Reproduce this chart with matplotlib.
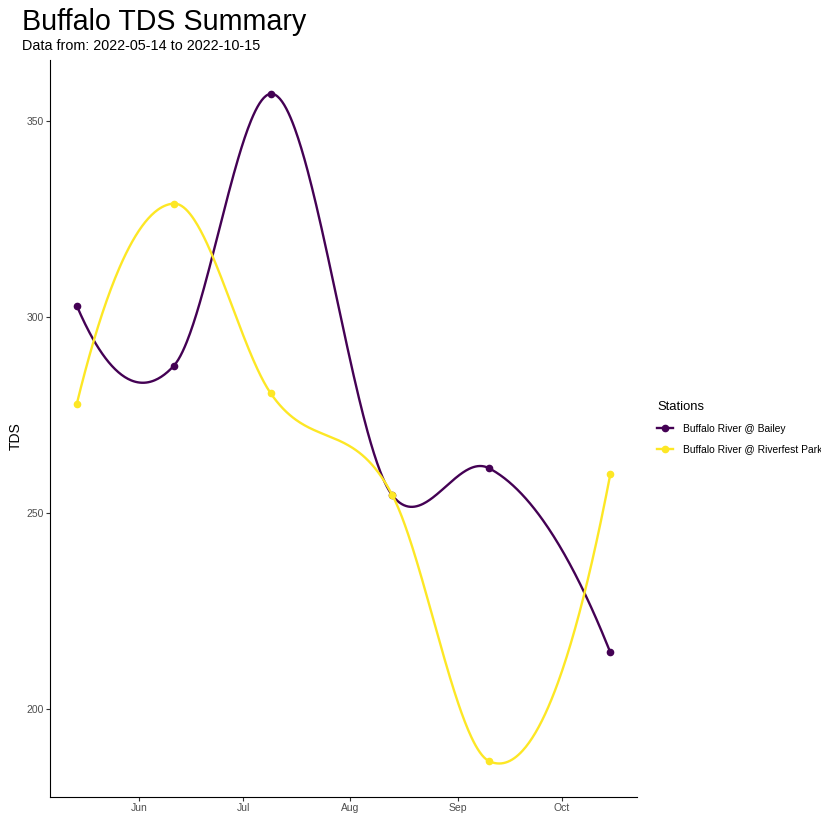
import numpy as np
import pandas as pd
import matplotlib
matplotlib.use('Agg')
import matplotlib.pyplot as plt
import matplotlib.dates as mdates

plt.rcParams['font.family'] = ['Liberation Sans', 'DejaVu Sans']

# sample dates and TDS readings per station
dates = ['2022-05-14', '2022-06-11', '2022-07-09', '2022-08-13', '2022-09-10', '2022-10-15']
bailey = [302.9, 287.5, 356.9, 254.6, 261.4, 214.4]
riverfest = [277.7, 328.9, 280.5, 254.7, 186.7, 259.9]
stations = ['Buffalo River @ Bailey', 'Buffalo River @ Riverfest Park']
colors = ['#440154', '#FDE725']


def smooth_line(x, y, xs):
    # cubic hermite through the points, tangents from 3-point parabolas
    x = np.asarray(x, float)
    y = np.asarray(y, float)
    h = np.diff(x)
    d = np.diff(y) / h
    m = np.zeros(len(x))
    m[1:-1] = (h[1:] * d[:-1] + h[:-1] * d[1:]) / (h[:-1] + h[1:])
    m[0] = d[0] - h[0] * (d[1] - d[0]) / (h[0] + h[1])
    m[-1] = d[-1] + h[-1] * (d[-1] - d[-2]) / (h[-2] + h[-1])
    i = np.clip(np.searchsorted(x, xs) - 1, 0, len(x) - 2)
    s = (xs - x[i]) / h[i]
    h00 = 2 * s**3 - 3 * s**2 + 1
    h10 = s**3 - 2 * s**2 + s
    h01 = -2 * s**3 + 3 * s**2
    h11 = s**3 - s**2
    return h00 * y[i] + h10 * h[i] * m[i] + h01 * y[i + 1] + h11 * h[i] * m[i + 1]


d = pd.to_datetime(dates)
xnum = mdates.date2num(d)
xs = np.linspace(xnum[0], xnum[-1], 500)

fig = plt.figure(figsize=(8.21, 8.14), dpi=100)
ax = fig.add_axes([0.0609, 0.0209, 0.715, 0.905])

lo, hi = [], []
for vals, col in zip([bailey, riverfest], colors):
    ys = smooth_line(xnum, vals, xs)
    lo.append(ys.min()); hi.append(ys.max())
    ax.plot(xs, ys, color=col, lw=1.7)
    ax.plot(xnum, vals, 'o', color=col, ms=4.5)

ymin, ymax = min(lo), max(hi)
pad = (ymax - ymin) * 0.05
ax.set_ylim(ymin - pad, ymax + pad)
xpad = (xnum[-1] - xnum[0]) * 0.05
ax.set_xlim(xnum[0] - xpad, xnum[-1] + xpad)

ax.set_yticks([200, 250, 300, 350])
ax.xaxis.set_major_locator(mdates.MonthLocator())
ax.xaxis.set_major_formatter(mdates.DateFormatter('%b'))
ax.tick_params(labelsize=7.5, labelcolor='#4D4D4D', color='#333333', length=3, pad=1.5)
for s in ['top', 'right']:
    ax.spines[s].set_visible(False)
ax.set_ylabel('TDS', fontsize=10)
ax.yaxis.set_label_coords(-0.046, 0.49)

fig.text(0.027, 0.9725, 'Buffalo TDS Summary', fontsize=20.6, va='center')
fig.text(0.027, 0.944, 'Data from: 2022-05-14 to 2022-10-15', fontsize=10.4, va='center')

handles = [plt.Line2D([], [], color=c, lw=1.7, marker='o', ms=4.5) for c in colors]
leg = fig.legend(handles, stations, loc='upper left', bbox_to_anchor=(0.789, 0.519),
                 frameon=False, fontsize=7.4, title='Stations', title_fontsize=9.4,
                 handlelength=1.6, handletextpad=0.9, labelspacing=1.05, alignment='left')

fig.savefig('out.png', dpi=100)
